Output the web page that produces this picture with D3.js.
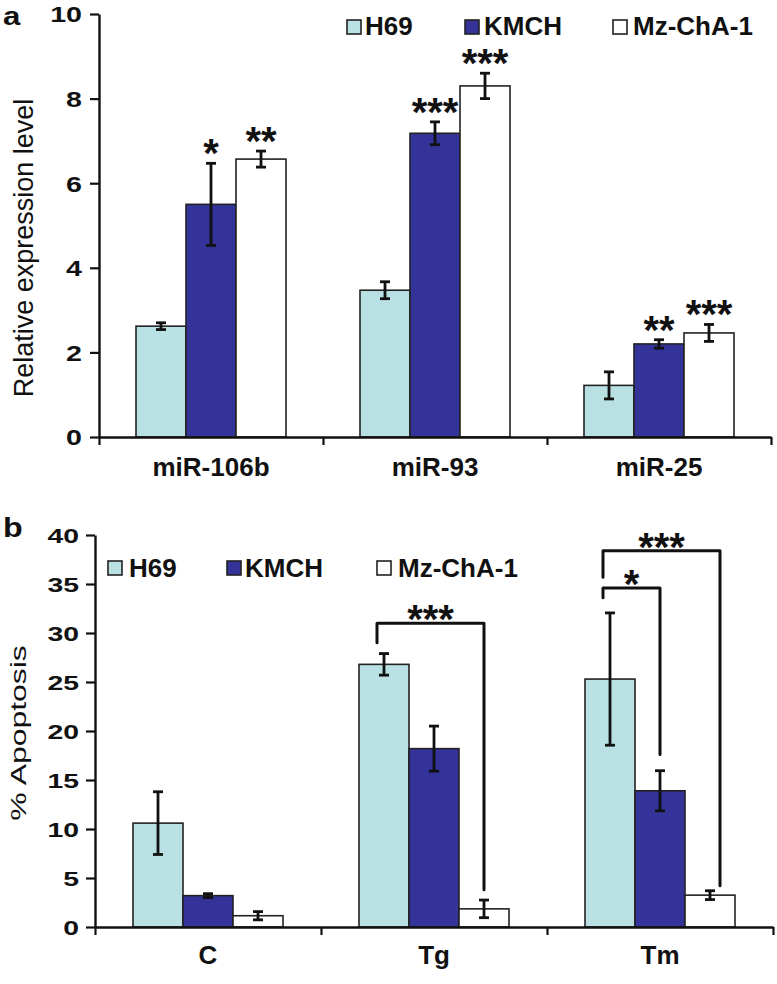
<!DOCTYPE html>
<html><head><meta charset="utf-8">
<script src="https://cdn.jsdelivr.net/npm/d3@7"></script>
<style>body{margin:0;background:#fff}svg{display:block}</style>
</head><body><svg id="c" width="777" height="984"></svg>
<script>
// ---------- DATA ----------
const seriesNames = ["H69", "KMCH", "Mz-ChA-1"];

// Panel a: relative expression level
const catsA = ["miR-106b", "miR-93", "miR-25"];
const aH69 = [2.62, 3.47, 1.22];
const aH69Err = [0.08, 0.2, 0.32];
const aKMCH = [5.5, 7.18, 2.2];
const aKMCHErr = [0.97, 0.27, 0.1];
const aMz = [6.57, 8.3, 2.46];
const aMzErr = [0.19, 0.3, 0.2];
const aH69Sig = ["", "", ""];
const aKMCHSig = ["*", "***", "**"];
const aMzSig = ["**", "***", "***"];
const aTicks = [0, 2, 4, 6, 8, 10];

// Panel b: % apoptosis
const catsB = ["C", "Tg", "Tm"];
const bH69 = [10.6, 26.8, 25.3];
const bH69Err = [3.2, 1.1, 6.75];
const bKMCH = [3.2, 18.2, 13.9];
const bKMCHErr = [0.2, 2.3, 2.05];
const bMz = [1.15, 1.85, 3.25];
const bMzErr = [0.42, 0.9, 0.45];
const bTicks = [0, 5, 10, 15, 20, 25, 30, 35, 40];

// significance brackets in panel b (values in % apoptosis units)
const brCat = ["Tg", "Tm", "Tm"];
const brFrom = [0, 0, 0];
const brTo = [2, 2, 1];
const brTop = [31.0, 38.4, 34.6];
const brLeftEnd = [29.0, 35.7, 33.6];
const brRightEnd = [3.8, 4.2, 17.6];
const brLabel = ["***", "***", "*"];

// ---------- STYLE ----------
const colors = ["#b9e0e3", "#333399", "#ffffff"];
const FONT = "'Liberation Sans', Arial, Helvetica, sans-serif";
const svg = d3.select("#c");

function txt(g, o) {
  const t = g.append("text")
    .attr("font-family", FONT)
    .attr("font-size", o.size)
    .attr("font-weight", o.weight || "bold")
    .attr("text-anchor", o.anchor || "start")
    .attr("fill", "#111")
    .attr("transform", `translate(${o.x},${o.y}) rotate(${o.rot || 0}) scale(${o.sx || 1},1)`)
    .text(o.text);
  return t;
}

function panel(cfg) {
  const g = svg.append("g");
  const x0 = d3.scaleBand().domain(cfg.cats).range(cfg.xRange).paddingInner(0).paddingOuter(0);
  const x1 = d3.scaleBand().domain([0, 1, 2]).range([0, x0.bandwidth()]).paddingInner(0).paddingOuter(cfg.outerPad);
  const y = d3.scaleLinear().domain(cfg.yDomain).range(cfg.yRange);

  cfg.vals.forEach((vals, s) => {
    g.append("g").selectAll("rect").data(vals).join("rect")
      .attr("x", (d, i) => x0(cfg.cats[i]) + x1(s))
      .attr("width", x1.bandwidth())
      .attr("y", d => y(d))
      .attr("height", d => y(0) - y(d))
      .attr("fill", colors[s])
      .attr("stroke", "#222")
      .attr("stroke-width", 1.6);
  });

  cfg.vals.forEach((vals, s) => {
    vals.forEach((v, i) => {
      const cx = x0(cfg.cats[i]) + x1(s) + x1.bandwidth() / 2;
      const e = cfg.errs[s][i];
      const eg = g.append("g").attr("stroke", "#111").attr("stroke-width", 2.8).attr("fill", "none");
      eg.append("line").attr("x1", cx).attr("x2", cx).attr("y1", y(v + e)).attr("y2", y(v - e));
      eg.append("line").attr("x1", cx - 5).attr("x2", cx + 5).attr("y1", y(v + e)).attr("y2", y(v + e));
      eg.append("line").attr("x1", cx - 5).attr("x2", cx + 5).attr("y1", y(v - e)).attr("y2", y(v - e));
      if (cfg.sig && cfg.sig[s][i]) {
        txt(g, { x: cx, y: y(v + e) - cfg.starGap + 23, text: cfg.sig[s][i], size: 40, anchor: "middle" });
      }
    });
  });

  const ya = g.append("g").attr("transform", `translate(${cfg.xRange[0]},0)`)
    .call(d3.axisLeft(y).tickValues(cfg.ticks).tickSize(9).tickSizeOuter(0));
  ya.select(".domain").attr("stroke", "#111").attr("stroke-width", 2.4);
  ya.selectAll(".tick line").attr("stroke", "#111").attr("stroke-width", 2.2);
  ya.selectAll(".tick text")
    .attr("font-family", FONT).attr("font-size", cfg.tickSize).attr("font-weight", "bold").attr("fill", "#111")
    .attr("x", -cfg.tickOff / cfg.tickSx).attr("dy", "0.36em")
    .attr("transform", `scale(${cfg.tickSx},1)`);

  const bounds = d3.range(cfg.cats.length + 1);
  const xb = d3.scaleLinear().domain([0, cfg.cats.length]).range(cfg.xRange);
  const xa = g.append("g").attr("transform", `translate(0,${y(0)})`)
    .call(d3.axisBottom(xb).tickValues(bounds).tickSize(8).tickSizeOuter(0).tickFormat(""));
  xa.select(".domain").attr("stroke", "#111").attr("stroke-width", 2.4);
  xa.selectAll(".tick line").attr("stroke", "#111").attr("stroke-width", 2.2);

  const xl = g.append("g").attr("transform", `translate(0,${y(0)})`)
    .call(d3.axisBottom(x0).tickSize(0).tickPadding(cfg.catPad));
  xl.select(".domain").remove();
  xl.selectAll(".tick text").attr("font-family", FONT).attr("font-size", 26)
    .attr("font-weight", "bold").attr("fill", "#111");

  return { g, x0, x1, y };
}

// ---------- PANEL A ----------
const A = panel({
  cats: catsA, vals: [aH69, aKMCH, aMz], errs: [aH69Err, aKMCHErr, aMzErr],
  sig: [aH69Sig, aKMCHSig, aMzSig], starGap: 19,
  ticks: aTicks, yDomain: [0, 10], yRange: [437, 14], xRange: [99, 771], outerPad: 0.74,
  tickSize: 22, tickSx: 1.3, tickOff: 17, catPad: 21
});
txt(svg, { x: 3, y: 25, text: "a", size: 26, sx: 1.2 });
txt(svg, { x: 33, y: 248, text: "Relative expression level", size: 27, weight: "normal", rot: -90, anchor: "middle" });

const legA = [[347, 365], [465, 484], [613, 633]];
seriesNames.forEach((n, i) => {
  svg.append("rect").attr("x", legA[i][0]).attr("y", 20).attr("width", 14).attr("height", 14)
    .attr("fill", colors[i]).attr("stroke", "#222").attr("stroke-width", 1.6);
  txt(svg, { x: legA[i][1], y: 35, text: n, size: 26 });
});

// ---------- PANEL B ----------
const B = panel({
  cats: catsB, vals: [bH69, bKMCH, bMz], errs: [bH69Err, bKMCHErr, bMzErr],
  sig: null, starGap: 0,
  ticks: bTicks, yDomain: [0, 40], yRange: [927, 535], xRange: [95, 773], outerPad: 0.76,
  tickSize: 21, tickSx: 1.35, tickOff: 16, catPad: 19
});
txt(svg, { x: 3, y: 537, text: "b", size: 28, sx: 1.15 });
txt(svg, { x: 26, y: 733, text: "% Apoptosis", size: 22, weight: "normal", rot: -90, anchor: "middle", sx: 1.45 });

const legB = [[108, 129], [227, 245], [377, 398]];
seriesNames.forEach((n, i) => {
  svg.append("rect").attr("x", legB[i][0]).attr("y", 561).attr("width", 14).attr("height", 14)
    .attr("fill", colors[i]).attr("stroke", "#222").attr("stroke-width", 1.6);
  txt(svg, { x: legB[i][1], y: 577, text: n, size: 26 });
});

const brLeftDx = [-7, -7, -7];
const brRightDx = [0, 10, 0];
brCat.forEach((c, k) => {
  const cx = s => B.x0(c) + B.x1(s) + B.x1.bandwidth() / 2;
  const xl = cx(brFrom[k]) + brLeftDx[k];
  const xr = cx(brTo[k]) + brRightDx[k];
  const path = d3.path();
  path.moveTo(xl, B.y(brLeftEnd[k]));
  path.lineTo(xl, B.y(brTop[k]));
  path.lineTo(xr, B.y(brTop[k]));
  path.lineTo(xr, B.y(brRightEnd[k]));
  svg.append("path").attr("d", path.toString()).attr("fill", "none")
    .attr("stroke", "#111").attr("stroke-width", 3).attr("stroke-linejoin", "round").attr("stroke-linecap", "round");
  txt(svg, { x: (xl + xr) / 2, y: B.y(brTop[k]) - 13 + 23, text: brLabel[k], size: 40, anchor: "middle" });
});
</script></body></html>
